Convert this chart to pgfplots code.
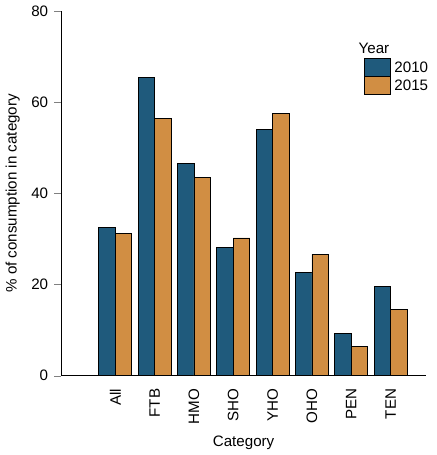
\documentclass[border=0pt]{standalone}
\usepackage{pgfplots}
\pgfplotsset{compat=1.18}
\usepackage{fontspec}
\setmainfont{Liberation Sans}
\definecolor{cA}{HTML}{1F5A7C}
\definecolor{cB}{HTML}{D18E43}
\begin{document}
\begin{tikzpicture}
\begin{axis}[
  width=9.2cm, height=9.2cm,
  ybar, bar width=0.42,
  xmin=-1.375, xmax=7.9, ymin=0, ymax=80,
  xtick={0,...,7}, xticklabels={All,FTB,HMO,SHO,YHO,OHO,PEN,TEN},
  xticklabel style={rotate=90, anchor=east},
  ytick={0,20,40,60,80},
  axis x line*=bottom, axis y line*=left,
  tick align=outside, tick pos=left,
  xtick style={draw=none},
  ylabel={\% of consumption in category}, xlabel={Category},
  /pgf/number format/assume math mode=true,
  tick label style={font=\small}, label style={font=\small},
  legend style={at={(1.03,0.93)}, anchor=north east, draw=none, font=\small, cells={anchor=west}, row sep=-1pt},
  legend image code/.code={\draw[#1] (0cm,-0.17cm) rectangle (0.55cm,0.2cm);},
  legend cell align=left,
]
\addlegendimage{empty legend}
\addlegendentry{\hspace{-0.75cm}Year}
\addplot[fill=cA, draw=black, bar shift=-0.21] coordinates {(0,32.6)(1,65.4)(2,46.6)(3,28.2)(4,54.1)(5,22.6)(6,9.3)(7,19.5)};
\addlegendentry{2010}
\addplot[fill=cB, draw=black, bar shift=0.21] coordinates {(0,31.2)(1,56.5)(2,43.5)(3,30.2)(4,57.6)(5,26.6)(6,6.4)(7,14.6)};
\addlegendentry{2015}
\end{axis}
\end{tikzpicture}
\end{document}
